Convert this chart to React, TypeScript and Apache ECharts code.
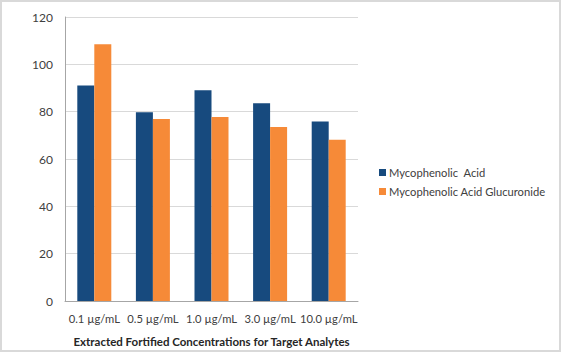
import React, { useEffect, useRef } from "react";
import * as echarts from "echarts";

const categories = ["0.1 µg/mL", "0.5 µg/mL", "1.0 µg/mL", "3.0 µg/mL", "10.0 µg/mL"];
const mpa = [91.1, 79.8, 89.1, 83.6, 75.8];
const mpag = [108.5, 76.9, 77.7, 73.5, 68.1];
const seriesNames = ["Mycophenolic  Acid", "Mycophenolic Acid Glucuronide"];
const xTitle = "Extracted Fortified Concentrations for Target Analytes";

const FONT = "Lato, 'Open Sans', sans-serif";

export default function App() {
  const ref = useRef<HTMLDivElement>(null);
  useEffect(() => {
    const chart = echarts.init(ref.current!, null, { renderer: "svg" });
    chart.setOption({
      animation: false,
      textStyle: { fontFamily: FONT },
      graphic: [
        {
          type: "rect",
          shape: { x: 1, y: 1, width: 559, height: 350 },
          style: { fill: "none", stroke: "#d9d9d9", lineWidth: 2 },
          silent: true,
        },
      ],
      grid: { left: 65, top: 17, width: 293, height: 285, containLabel: false },
      legend: {
        orient: "vertical",
        left: 374,
        top: 162,
        itemWidth: 7,
        itemHeight: 7,
        itemGap: 8,
        icon: "rect",
        textStyle: { fontSize: 11.2, color: "#404040", fontFamily: FONT, padding: [0, 0, 0, -2] },
        data: seriesNames,
      },
      xAxis: {
        type: "category",
        data: categories,
        axisLine: { lineStyle: { color: "#a6a6a6" } },
        axisTick: { show: false },
        axisLabel: { color: "#404040", fontSize: 11.2, margin: 12, interval: 0 },
        name: xTitle,
        nameLocation: "middle",
        nameGap: 34,
        nameTextStyle: { fontWeight: "bold", fontSize: 11.5, color: "#262626" },
      },
      yAxis: {
        type: "value",
        min: 0,
        max: 120,
        interval: 20,
        axisLine: { show: true, lineStyle: { color: "#a6a6a6" } },
        axisTick: { show: false },
        axisLabel: { color: "#404040", fontSize: 12, margin: 12 },
        splitLine: { lineStyle: { color: "#d9d9d9" } },
      },
      series: [
        {
          name: seriesNames[0],
          type: "bar",
          data: mpa,
          barWidth: 17,
          barGap: "0%",
          itemStyle: { color: "#174A7E" },
        },
        {
          name: seriesNames[1],
          type: "bar",
          data: mpag,
          barWidth: 17,
          barGap: "0%",
          itemStyle: { color: "#F68A38" },
        },
      ],
    });
    return () => chart.dispose();
  }, []);
  return (
    <div
      ref={ref}
      style={{ position: "fixed", left: 0, top: 0, width: 561, height: 352, background: "#fff" }}
    />
  );
}
